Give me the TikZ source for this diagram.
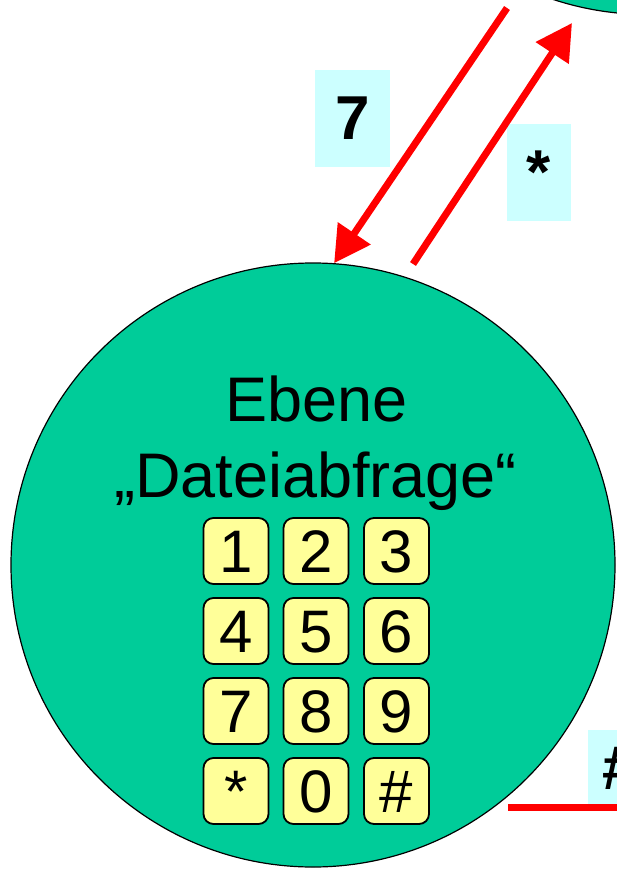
\documentclass[tikz,border=0pt]{standalone}
\usepackage{fontspec}
\setmainfont{Liberation Sans}
\usetikzlibrary{arrows.meta}
\definecolor{stategreen}{HTML}{00CC99}
\definecolor{keyyellow}{HTML}{FFFF99}
\definecolor{labelcyan}{HTML}{CCFFFF}
\definecolor{arrowred}{HTML}{FF0000}
\begin{document}
\begin{tikzpicture}[x=1pt,y=-1pt,
  state/.style={circle, fill=stategreen, draw=black, line width=1.2pt, minimum size=604pt, inner sep=0pt},
  keybox/.style={draw=black, line width=1.8pt, fill=keyyellow, rounded corners=10pt,
    minimum width=65pt, minimum height=66pt, inner sep=0pt, text height=43pt, text depth=0pt,
    font=\fontsize{60}{60}\selectfont},
  keylabel/.style={fill=labelcyan, inner sep=0pt, font=\fontsize{62}{62}\selectfont\bfseries},
  transition/.style={draw=arrowred, line width=7pt},
  tip/.style={-{Triangle[length=36pt,width=38pt]}},
  titletext/.style={font=\fontsize{63}{76}\selectfont, inner sep=0pt, anchor=base}]
\useasboundingbox (0,0) rectangle (617,869);
\clip (0,0) rectangle (617,869);
% states
\node[state] (upper) at (647.6,-287.5) {};
\node[state] (dateiabfrage) at (313,565) {};
% title
\node[titletext] (t1) at (316.5,421) {Ebene};
\node[titletext] (t2) at (315.5,497) {„Dateiabfrage“};
% keypad
\node[keybox] (k1) at (236,551) {1};
\node[keybox] (k2) at (316,551) {2};
\node[keybox] (k3) at (396.5,551) {3};
\node[keybox] (k4) at (236,631) {4};
\node[keybox] (k5) at (316,631) {5};
\node[keybox] (k6) at (396.5,631) {6};
\node[keybox] (k7) at (236,711) {7};
\node[keybox] (k8) at (316,711) {8};
\node[keybox] (k9) at (396.5,711) {9};
\node[keybox] (kstar) at (236,791) {*};
\node[keybox] (k0) at (316,791) {0};
\node[keybox] (khash) at (396.5,791) {\#};
% labels
\node[keylabel, minimum width=75pt, minimum height=97pt] (l7) at (352.5,118.5) {7};
\node[keylabel, minimum width=64pt, minimum height=97pt] (lstar) at (539,172.5) {*};
\node[keylabel, minimum width=64pt, minimum height=76pt] (lhash) at (620,768) {\#};
% connectors
\coordinate (a7start) at (507,8);
\coordinate (astarstart) at (413,264);
\coordinate (astarend) at (572,23);
\coordinate (hashstart) at (508,807);
\coordinate (hashend) at (680,807);
\draw[transition, tip] (a7start) -- (dateiabfrage.86);
\draw[transition, tip] (astarstart) -- (astarend);
\draw[transition] (hashstart) -- (hashend);
\end{tikzpicture}
\end{document}
